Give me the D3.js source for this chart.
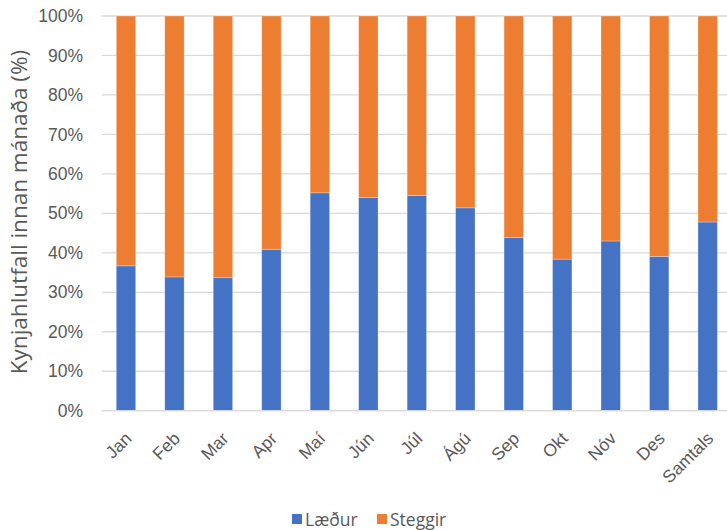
<!DOCTYPE html>
<html>
<head>
<meta charset="utf-8">
<script src="https://cdn.jsdelivr.net/npm/d3@7"></script>
<style>
  html, body { margin: 0; padding: 0; background: #fff; }
  svg { display: block; font-family: "Open Sans", "Noto Sans", sans-serif; }
</style>
</head>
<body>
<svg id="chart" width="727" height="530"></svg>
<script>
// Monthly sex ratio (%), females (Læður) vs males (Steggir)
const months = ["Jan", "Feb", "Mar", "Apr", "Maí", "Jún", "Júl", "Ágú", "Sep", "Okt", "Nóv", "Des", "Samtals"];
const laedur = [36.7, 33.9, 33.7, 40.9, 55.2, 54.0, 54.5, 51.4, 43.9, 38.4, 43.0, 39.1, 47.8];
const steggir = laedur.map(v => 100 - v);
const yTicks = [0, 10, 20, 30, 40, 50, 60, 70, 80, 90, 100];
const seriesNames = ["Læður", "Steggir"];
const colors = ["#4472C4", "#ED7D31"];

const svg = d3.select("#chart");
const textColor = "#595959";

const x = d3.scaleBand().domain(months).range([101.75, 731.9]).paddingInner(0.6).paddingOuter(0.3);
const y = d3.scaleLinear().domain([0, 100]).range([410.7, 16]);

// Gridlines
svg.append("g")
  .selectAll("line")
  .data(yTicks)
  .join("line")
  .attr("x1", 101.75).attr("x2", 731.9)
  .attr("y1", d => y(d)).attr("y2", d => y(d))
  .attr("stroke", "#D9D9D9").attr("stroke-width", 1.3);

// Y axis labels
const yAxis = d3.axisLeft(y).tickValues(yTicks).tickFormat(d => d + "%").tickSize(0).tickPadding(0);
const yg = svg.append("g").attr("transform", "translate(83,0)").call(yAxis);
yg.select(".domain").remove();
yg.selectAll("text").attr("fill", textColor).style("font-size", "17.5px").attr("font-family", null);

// Stacked bars
const rows = months.map((m, i) => ({ month: m, "Læður": laedur[i], "Steggir": steggir[i] }));
const stack = d3.stack().keys(seriesNames)(rows);
svg.append("g")
  .selectAll("g")
  .data(stack)
  .join("g")
  .attr("fill", (d, i) => colors[i])
  .selectAll("rect")
  .data(d => d)
  .join("rect")
  .attr("x", d => x(d.data.month))
  .attr("width", x.bandwidth())
  .attr("y", d => y(d[1]))
  .attr("height", d => y(d[0]) - y(d[1]))
  .attr("stroke", "#ffffff").attr("stroke-opacity", 0.35).attr("stroke-width", 0.8);

// Baseline
svg.append("line")
  .attr("x1", 101.75).attr("x2", 731.9)
  .attr("y1", y(0)).attr("y2", y(0))
  .attr("stroke", "#D9D9D9").attr("stroke-width", 1.3);

// X axis labels, rotated
const xAxis = d3.axisBottom(x).tickSize(0).tickPadding(0);
const xg = svg.append("g").call(xAxis);
xg.select(".domain").remove();
xg.selectAll(".tick").attr("transform", d => `translate(${x(d) + x.bandwidth() / 2 - 2},431)`);
xg.selectAll("text")
  .attr("fill", textColor)
  .attr("font-family", null)
  .style("font-size", "17.5px")
  .attr("text-anchor", "end")
  .attr("x", 0).attr("y", 0).attr("dy", "0.7em")
  .attr("transform", "rotate(-45)");

// Y axis title
svg.append("text")
  .attr("transform", "translate(27,212) rotate(-90)")
  .attr("text-anchor", "middle")
  .attr("fill", textColor)
  .style("font-size", "22.5px")
  .text("Kynjahlutfall innan mánaða (%)");

// Legend
const legendItems = [{ name: seriesNames[0], color: colors[0], x: 292 }, { name: seriesNames[1], color: colors[1], x: 377 }];
const lg = svg.append("g").selectAll("g").data(legendItems).join("g")
  .attr("transform", d => `translate(${d.x},514)`);
lg.append("rect").attr("width", 10).attr("height", 10).attr("fill", d => d.color);
lg.append("text").attr("x", 13).attr("y", 11.5)
  .attr("fill", textColor).style("font-size", "17.5px")
  .text(d => d.name);
</script>
</body>
</html>
